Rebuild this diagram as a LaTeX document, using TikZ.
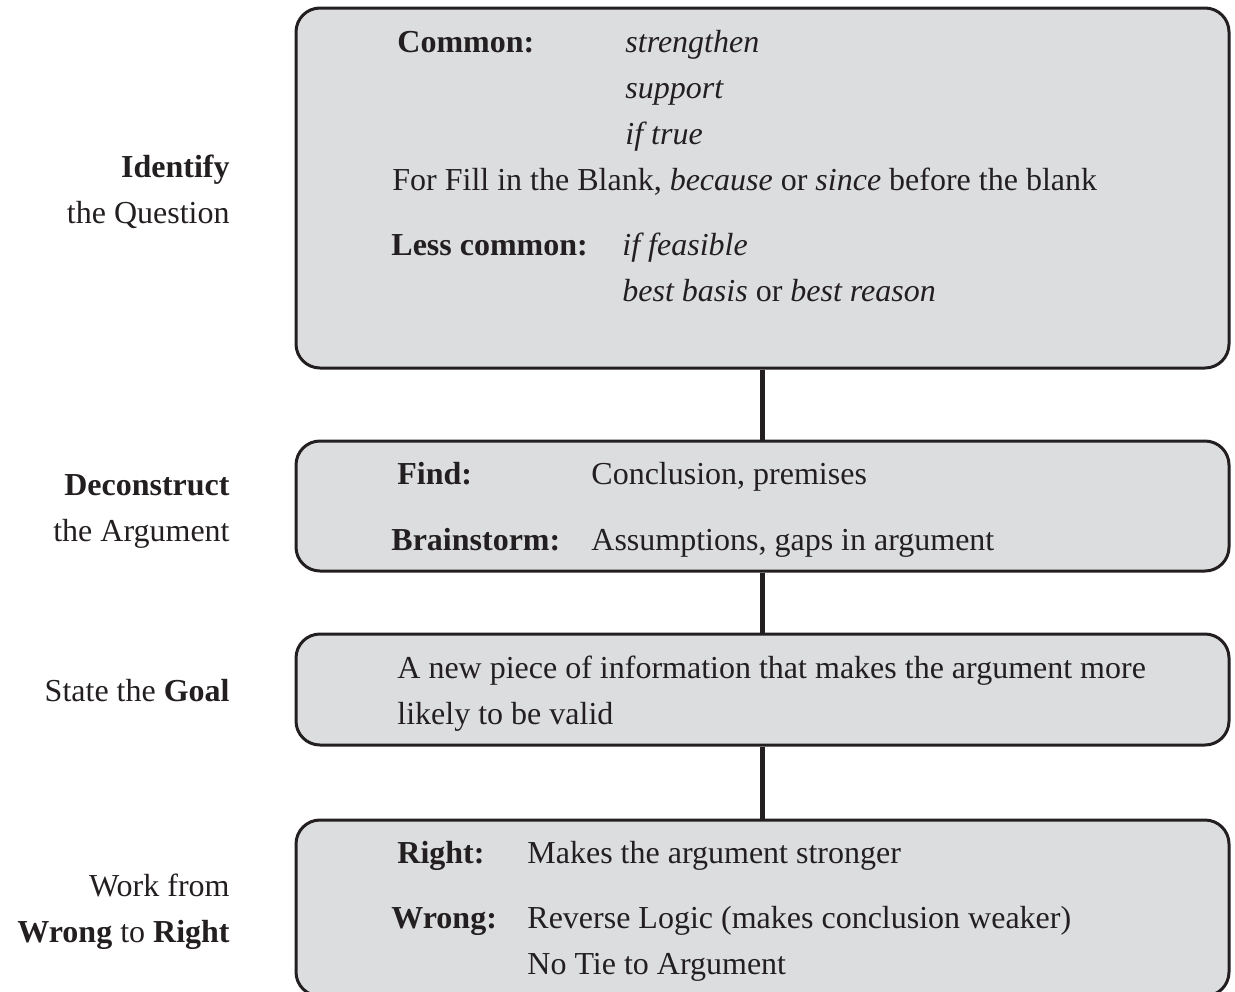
\documentclass[tikz,border=0pt]{standalone}
\usepackage{fontspec}
\setmainfont{Liberation Serif}
\definecolor{boxgray}{RGB}{220,221,223}
\definecolor{ink}{RGB}{35,31,32}
\begin{document}
\begin{tikzpicture}[x=0.5pt,y=-0.5pt,
  box/.style={draw=ink, line width=1.5pt, rounded corners=12pt, fill=boxgray,
    minimum width=466.5pt, inner sep=0pt},
  conn/.style={draw=ink, line width=2.5pt},
  txt/.style={anchor=base west, inner sep=0pt, text=ink, font=\fontsize{16}{19}\selectfont},
  lbl/.style={anchor=base east, inner sep=0pt, text=ink, font=\fontsize{16}{19}\selectfont}]
\useasboundingbox (0,0) rectangle (1235,991);
% boxes
\node[box, minimum height=180pt] (b1) at (762.5,188) {};
\node[box, minimum height=65pt] (b2) at (762.5,506) {};
\node[box, minimum height=55.5pt] (b3) at (762.5,689.5) {};
\node[box, minimum height=88pt] (b4) at (762.5,908) {};
% connectors
\draw[conn] (b1.south) -- (b2.north);
\draw[conn] (b2.south) -- (b3.north);
\draw[conn] (b3.south) -- (b4.north);
% box 1
\node[txt] (c1) at (397,52) {\textbf{Common:}};
\node[txt] (c2) at (625,52) {\textit{strengthen}};
\node[txt] (c3) at (625,98) {\textit{support}};
\node[txt] (c4) at (625,144) {\textit{if true}};
\node[txt] (c5) at (392,190) {For Fill in the Blank, \textit{because} or \textit{since} before the blank};
\node[txt] (c6) at (391,255) {\textbf{Less common:}};
\node[txt] (c7) at (622,255) {\textit{if feasible}};
\node[txt] (c8) at (622,301) {\textit{best basis} or \textit{best reason}};
% box 2
\node[txt] (d1) at (397,484) {\textbf{Find:}};
\node[txt] (d2) at (591,484) {Conclusion, premises};
\node[txt] (d3) at (391,550) {\textbf{Brainstorm:}};
\node[txt] (d4) at (591,550) {Assumptions, gaps in argument};
% box 3
\node[txt] (g1) at (397,678) {A new piece of information that makes the argument more};
\node[txt] (g2) at (397,724) {likely to be valid};
% box 4
\node[txt] (w1) at (397,863) {\textbf{Right:}};
\node[txt] (w2) at (527,863) {Makes the argument stronger};
\node[txt] (w3) at (391,928) {\textbf{Wrong:}};
\node[txt] (w4) at (527,928) {Reverse Logic (makes conclusion weaker)};
\node[txt] (w5) at (527,974) {No Tie to Argument};
% left labels
\node[lbl] (l1) at (230,177) {\textbf{Identify}};
\node[lbl] (l2) at (230,223) {the Question};
\node[lbl] (l3) at (230,495) {\textbf{Deconstruct}};
\node[lbl] (l4) at (230,541) {the Argument};
\node[lbl] (l5) at (230,701) {State the \textbf{Goal}};
\node[lbl] (l6) at (230,896) {Work from};
\node[lbl] (l7) at (230,942) {\textbf{Wrong} to \textbf{Right}};
\end{tikzpicture}
\end{document}
